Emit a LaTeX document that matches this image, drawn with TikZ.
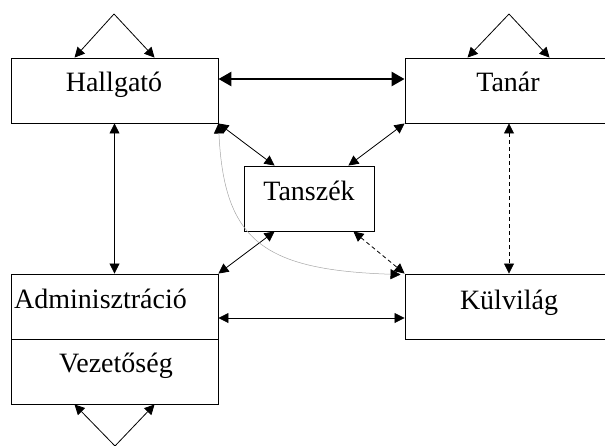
\documentclass[tikz,border=0pt]{standalone}
\usepackage{fontspec}
\setmainfont{Liberation Serif}
\usetikzlibrary{arrows.meta}
\begin{document}
\begin{tikzpicture}[x=1pt,y=-1pt,
  box/.style={draw,line width=0.9pt,rectangle,inner sep=0pt,minimum height=65pt},
  lbl/.style={anchor=base,inner sep=0pt,font=\fontsize{28}{32}\selectfont},
  con/.style={line width=0.8pt,{Triangle[length=10pt,width=10pt]}-{Triangle[length=10pt,width=10pt]}},
  single/.style={line width=0.8pt,-{Triangle[length=10pt,width=10pt]}},
  thickcon/.style={line width=2.6pt,{Triangle[length=13pt,width=14pt]}-{Triangle[length=13pt,width=14pt]}},
  dashline/.style={dash pattern=on 4pt off 3pt}
]
\useasboundingbox (0,0) rectangle (605,445);
\clip (0,0) rectangle (605,445);
% boxes
\node[box,minimum width=207pt] (hall) at (114.5,90.5) {};
\node[box,minimum width=208pt] (tanar) at (509,90.5) {};
\node[box,minimum width=130pt] (tansz) at (309,198.5) {};
\node[box,minimum width=207pt] (admin) at (114.5,306.5) {};
\node[box,minimum width=207pt] (vez) at (114.5,371.5) {};
\node[box,minimum width=208pt] (kulv) at (509,306.5) {};
% labels
\node[lbl] (thall) at (114,91) {Hallgató};
\node[lbl] (ttanar) at (508,91) {Tanár};
\node[lbl] (ttansz) at (309,200) {Tanszék};
\node[lbl,anchor=base west] (tadmin) at (14,308) {Adminisztráció};
\node[lbl] (tvez) at (116,372) {Vezetőség};
\node[lbl] (tkulv) at (509,309) {Külvilág};
% apex coordinates
\coordinate (aphall) at (114,14);
\coordinate (aptanar) at (509,14);
\coordinate (apvez) at (115,446);
% self triangles
\draw[single] (aphall) -- ([xshift=64pt]hall.north west);
\draw[single] (aphall) -- ([xshift=144pt]hall.north west);
\draw[single] (aptanar) -- ([xshift=63pt]tanar.north west);
\draw[single] (aptanar) -- ([xshift=145pt]tanar.north west);
\draw[single] (apvez) -- ([xshift=64pt]vez.south west);
\draw[single] (apvez) -- ([xshift=144pt]vez.south west);
% connections
\draw[thickcon] ([yshift=11.5pt]hall.east) -- ([yshift=11.5pt]tanar.west);
\draw[con] (hall.south) -- (admin.north);
\draw[con,dashline] (tanar.south) -- (kulv.north);
\draw[con] (hall.south east) -- ([xshift=31pt]tansz.north west);
\draw[con] (tanar.south west) -- ([xshift=-26pt]tansz.north east);
\draw[con] ([xshift=31pt]tansz.south west) -- (admin.north east);
\draw[con,dashline] ([xshift=-21pt]tansz.south east) -- (kulv.north west);
\draw[con] ([yshift=-11.5pt]admin.east) -- ([yshift=-11.5pt]kulv.west);
\draw[line width=0.5pt,draw=black!35,{Triangle[length=10pt,width=10pt,color=black]}-{Triangle[length=10pt,width=10pt,color=black]}]
  (hall.south east) .. controls (224,240) and (262,270) .. ([xshift=-4pt,yshift=-1pt]kulv.north west);
\end{tikzpicture}
\end{document}
